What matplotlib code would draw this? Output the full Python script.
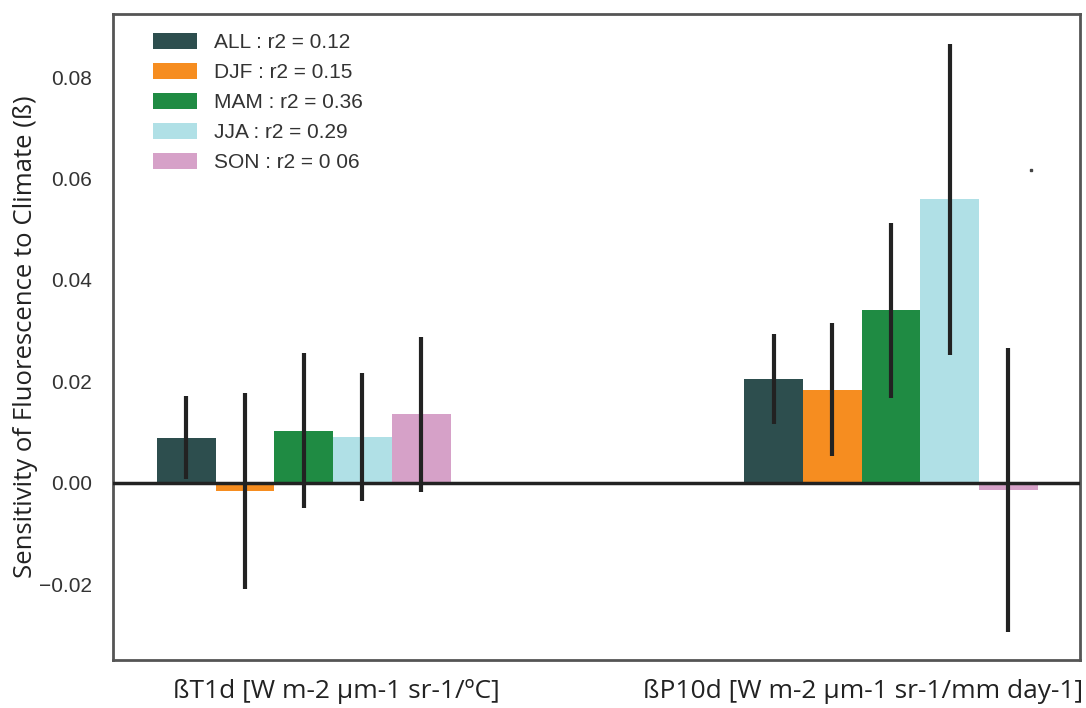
import matplotlib.pyplot as plt
import numpy as np

plt.rcParams['font.family'] = ['Liberation Sans', 'DejaVu Sans']

# sensitivity of fluorescence to temperature / precipitation, per season
categories = ['ßT1d [W m-2 µm-1 sr-1/ºC]', 'ßP10d [W m-2 µm-1 sr-1/mm day-1]']
label_pos = [0.056, 0.952]
seasons = ['ALL : r2 = 0.12', 'DJF : r2 = 0.15', 'MAM : r2 = 0.36',
           'JJA : r2 = 0.29', 'SON : r2 = 0 06']
colors = ['#2d4e4e', '#f68d20', '#1f8b43', '#b0e0e6', '#d6a1c8']

beta_all = [0.0089, 0.0205]
beta_djf = [-0.0016, 0.0184]
beta_mam = [0.0103, 0.0340]
beta_jja = [0.0091, 0.0559]
beta_son = [0.0135, -0.0015]

err_all = [0.0082, 0.0089]
err_djf = [0.0194, 0.0131]
err_mam = [0.0152, 0.0172]
err_jja = [0.0126, 0.0307]
err_son = [0.0153, 0.0280]

stray_point = (1.238, 0.0617)

values = [beta_all, beta_djf, beta_mam, beta_jja, beta_son]
errors = [err_all, err_djf, err_mam, err_jja, err_son]

fig = plt.figure(figsize=(10.86, 7.08), dpi=100)
ax = fig.add_axes([0.104, 0.068, 0.8905, 0.912])

x = np.arange(len(categories))
width = 0.1
for i, (vals, errs) in enumerate(zip(values, errors)):
    pos = x + (i - 2) * width
    ax.bar(pos, vals, width, color=colors[i], label=seasons[i], zorder=2)
    ax.errorbar(pos, vals, yerr=errs, fmt='none', ecolor='#222222',
                elinewidth=3, capsize=0, zorder=4)

ax.axhline(0, color='#222222', lw=2.5, zorder=3)
ax.plot(*stray_point, marker='s', ms=2, color='#444444', ls='none')

ax.set_xlim(-0.325, 1.322)
ax.set_ylim(-0.0349, 0.0924)
ax.set_yticks([-0.02, 0.0, 0.02, 0.04, 0.06, 0.08])
ax.set_yticklabels(['\u22120.02', '0.00', '0.02', '0.04', '0.06', '0.08'])
ax.set_xticks(label_pos)
ax.set_xticklabels(categories, family=['Open Sans', 'DejaVu Sans'],
                   fontsize=19, color='#222222')
ax.tick_params(axis='x', length=0, pad=14)
ax.tick_params(axis='y', length=0, labelsize=15, labelcolor='#333333', pad=15)
ax.set_ylabel('Sensitivity of Fluorescence to Climate (ß)',
              family=['Open Sans', 'DejaVu Sans'], fontsize=18.5,
              color='#222222', labelpad=1)

for s in ax.spines.values():
    s.set_color('#555555')
    s.set_linewidth(2)

ax.legend(loc='upper left', frameon=False, fontsize=15,
          handlelength=2.1, handleheight=0.8, labelspacing=0.52,
          handletextpad=0.8, borderaxespad=0.2,
          bbox_to_anchor=(0.029, 0.99), labelcolor='#333333')

fig.savefig('out.png', dpi=100)
